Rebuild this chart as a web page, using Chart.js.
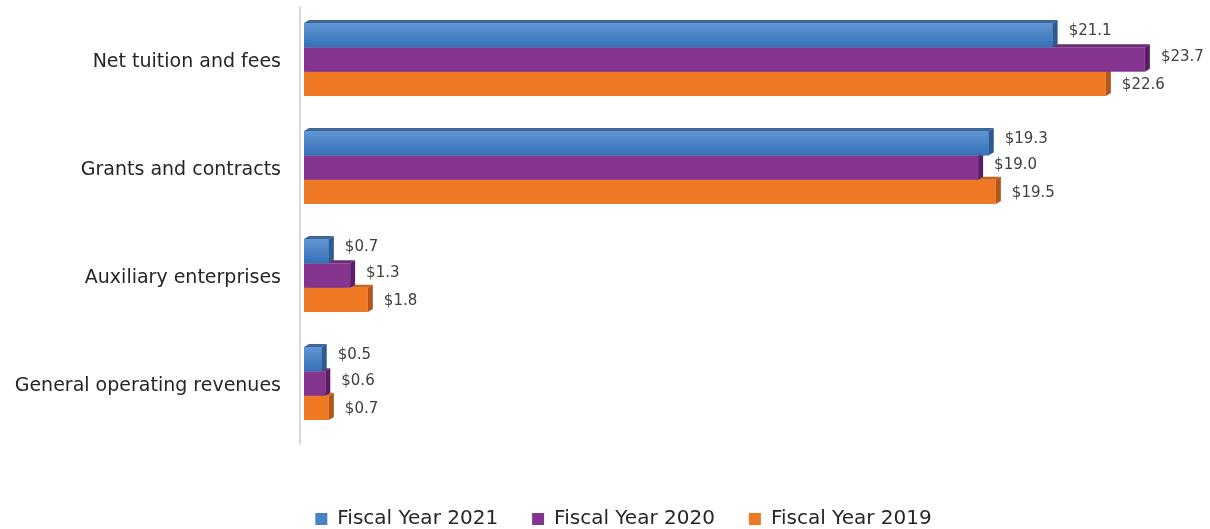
<!DOCTYPE html>
<html>
<head>
<meta charset="utf-8">
<script src="https://cdn.jsdelivr.net/npm/chart.js@4.4.1/dist/chart.umd.min.js"></script>
<style>
  html, body { margin: 0; padding: 0; background: #fff; }
  #wrap { width: 1210px; height: 529px; position: relative; }
</style>
</head>
<body>
<div id="wrap"><canvas id="revChart"></canvas></div>
<script>
// data (millions of dollars)
const categories = ["Net tuition and fees", "Grants and contracts", "Auxiliary enterprises", "General operating revenues"];
const seriesNames = ["Fiscal Year 2021", "Fiscal Year 2020", "Fiscal Year 2019"];
const fy2021 = [21.1, 19.3, 0.7, 0.5];
const fy2020 = [23.7, 19.0, 1.3, 0.6];
const fy2019 = [22.6, 19.5, 1.8, 0.7];
const axisMin = 0;
const axisMax = 25;

// colours: front, top face, right face
const fronts = ["#4a82c6", "#85358f", "#ee7824"];
const tops   = ["#3f6496", "#6a2a74", "#c6631f"];
const sides  = ["#2c5a92", "#5b1e66", "#b2561a"];
const depthX = 5, depthY = 3;
const labelNudge = [-4, -2, 1];

// fake 3D faces + gradient on the blue bars
const bars3d = {
  id: "bars3d",
  afterDatasetDraw(chart, args) {
    const ctx = chart.ctx;
    const i = args.index;
    ctx.save();
    args.meta.data.forEach(bar => {
      const { x, y, base, height } = bar.getProps(["x", "y", "base", "height"], true);
      const top = y - height / 2, bottom = y + height / 2;
      if (i === 0) {
        const g = ctx.createLinearGradient(0, top, 0, bottom);
        g.addColorStop(0, "#6196d4");
        g.addColorStop(1, "#3570b6");
        ctx.fillStyle = g;
        ctx.fillRect(base, top, x - base, height);
      }
      // top face
      ctx.fillStyle = tops[i];
      ctx.beginPath();
      ctx.moveTo(base, top);
      ctx.lineTo(base + depthX, top - depthY);
      ctx.lineTo(x + depthX, top - depthY);
      ctx.lineTo(x, top);
      ctx.closePath();
      ctx.fill();
      // right face
      ctx.fillStyle = sides[i];
      ctx.beginPath();
      ctx.moveTo(x, top);
      ctx.lineTo(x + depthX, top - depthY);
      ctx.lineTo(x + depthX, bottom - depthY);
      ctx.lineTo(x, bottom);
      ctx.closePath();
      ctx.fill();
    });
    ctx.restore();
  },
  afterDatasetsDraw(chart) {
    const ctx = chart.ctx;
    ctx.save();
    ctx.font = "15px 'DejaVu Sans'";
    ctx.fillStyle = "#404040";
    ctx.textAlign = "left";
    ctx.textBaseline = "middle";
    chart.data.datasets.forEach((ds, i) => {
      chart.getDatasetMeta(i).data.forEach((bar, j) => {
        ctx.fillText("$" + ds.data[j].toFixed(1), bar.x + 16, bar.y + labelNudge[i]);
      });
    });
    // vertical axis line
    const a = chart.chartArea;
    ctx.strokeStyle = "#d9d9d9";
    ctx.lineWidth = 2;
    ctx.beginPath();
    ctx.moveTo(a.left - 4, a.top + 1);
    ctx.lineTo(a.left - 4, a.bottom + 7);
    ctx.stroke();
    ctx.restore();
  },
  afterLayout(chart) {
    // legend sits a bit right of centre in the original
    chart.legend.left += 28;
    chart.legend.right += 28;
  }
};

const ctx = document.getElementById("revChart").getContext("2d");

new Chart(ctx, {
  type: "bar",
  data: {
    labels: categories,
    datasets: [
      { label: seriesNames[0], data: fy2021, backgroundColor: fronts[0] },
      { label: seriesNames[1], data: fy2020, backgroundColor: fronts[1] },
      { label: seriesNames[2], data: fy2019, backgroundColor: fronts[2] }
    ]
  },
  options: {
    indexAxis: "y",
    responsive: true,
    maintainAspectRatio: false,
    animation: false,
    categoryPercentage: 0.676,
    barPercentage: 1,
    layout: { autoPadding: false, padding: { top: 5.5, right: 19, left: 0, bottom: -10 } },
    plugins: {
      legend: {
        position: "bottom",
        labels: {
          boxWidth: 12,
          boxHeight: 12,
          padding: 34,
          color: "#262626",
          font: { family: "DejaVu Sans", size: 20 }
        }
      },
      tooltip: { enabled: false }
    },
    scales: {
      x: {
        min: axisMin,
        max: axisMax,
        grid: { display: false },
        border: { display: false },
        ticks: { display: false },
        afterFit: s => { s.height = 37.5; }
      },
      y: {
        grid: { display: false, drawTicks: false },
        border: { display: false },
        ticks: {
          padding: 23,
          labelOffset: 3,
          color: "#262626",
          font: { family: "DejaVu Sans", size: 19 }
        },
        afterFit: s => { s.width = 304; s.paddingTop = 0; s.paddingBottom = 0; }
      }
    }
  },
  plugins: [bars3d]
});
</script>
</body>
</html>
